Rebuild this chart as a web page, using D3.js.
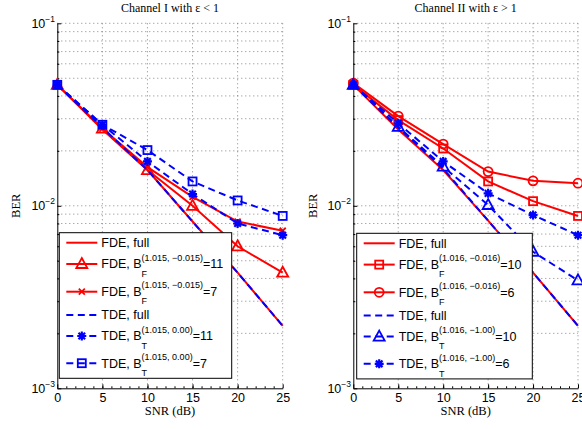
<!DOCTYPE html>
<html>
<head>
<meta charset="utf-8">
<script src="https://cdn.jsdelivr.net/npm/d3@7/dist/d3.min.js"></script>
<style>
  body { margin: 0; background: #fff; }
  svg { display: block; }
</style>
</head>
<body>
<svg id="chart" width="582" height="429"></svg>
<script>
// x values (SNR in dB)
var snr = [0, 5, 10, 15, 20, 25];

// Channel I (eps < 1)
var fdeFull1 = [0.046, 0.0262, 0.0157, 0.0082, 0.0043, 0.0022];
var fdeB11_1 = [0.046, 0.0265, 0.0157, 0.0100, 0.0060, 0.0043];
var fdeB7_1  = [0.046, 0.0265, 0.0163, 0.0112, 0.0082, 0.0073];
var tdeFull1 = [0.046, 0.0268, 0.0157, 0.0082, 0.0043, 0.0022];
var tdeB11_1 = [0.046, 0.0278, 0.0175, 0.0116, 0.0080, 0.0069];
var tdeB7_1  = [0.046, 0.0278, 0.0202, 0.0136, 0.0107, 0.0088];

// Channel II (eps > 1)
var fdeFull2 = [0.046, 0.0262, 0.0157, 0.0083, 0.0043, 0.0022];
var fdeB10_2 = [0.046, 0.0295, 0.0206, 0.0136, 0.0106, 0.0088];
var fdeB6_2  = [0.047, 0.0310, 0.0218, 0.0154, 0.0137, 0.0133];
var tdeFull2 = [0.046, 0.0268, 0.0160, 0.0083, 0.0043, 0.0022];
var tdeB10_2 = [0.046, 0.0271, 0.0164, 0.0101, 0.0056, 0.0039];
var tdeB6_2  = [0.046, 0.0283, 0.0175, 0.0117, 0.0089, 0.0069];

var titles = ["Channel I with \u03b5 < 1", "Channel II with \u03b5 > 1"];
var xTicks = [0, 5, 10, 15, 20, 25];
var yMajor = [0.1, 0.01, 0.001];
var yExp = ["\u22121", "\u22122", "\u22123"];

// legend labels: [main, subscript, superscript, tail]
var panels = [
  {
    title: titles[0],
    series: [
      { v: fdeFull1, c: "red", dash: false, m: null, lab: ["FDE, full"] },
      { v: fdeB11_1, c: "red", dash: false, m: "tri", lab: ["FDE, B", "F", "(1.015, \u22120.015)", "=11"] },
      { v: fdeB7_1, c: "red", dash: false, m: "x", lab: ["FDE, B", "F", "(1.015, \u22120.015)", "=7"] },
      { v: tdeFull1, c: "blue", dash: true, m: null, lab: ["TDE, full"] },
      { v: tdeB11_1, c: "blue", dash: true, m: "ast", lab: ["TDE, B", "T", "(1.015, 0.00)", "=11"] },
      { v: tdeB7_1, c: "blue", dash: true, m: "sq", lab: ["TDE, B", "T", "(1.015, 0.00)", "=7"] }
    ]
  },
  {
    title: titles[1],
    series: [
      { v: fdeFull2, c: "red", dash: false, m: null, lab: ["FDE, full"] },
      { v: fdeB10_2, c: "red", dash: false, m: "sq", lab: ["FDE, B", "F", "(1.016, \u22120.016)", "=10"] },
      { v: fdeB6_2, c: "red", dash: false, m: "circ", lab: ["FDE, B", "F", "(1.016, \u22120.016)", "=6"] },
      { v: tdeFull2, c: "blue", dash: true, m: null, lab: ["TDE, full"] },
      { v: tdeB10_2, c: "blue", dash: true, m: "tri", lab: ["TDE, B", "T", "(1.016, \u22121.00)", "=10"] },
      { v: tdeB6_2, c: "blue", dash: true, m: "ast", lab: ["TDE, B", "T", "(1.016, \u22121.00)", "=6"] }
    ]
  }
];

var sans = "'Liberation Sans', Arial, Helvetica, sans-serif";
var serif = "'Liberation Serif', 'Times New Roman', serif";
var colors = { red: "#ff0000", blue: "#0000ff" };

var svg = d3.select("#chart");
svg.append("rect").attr("width", 582).attr("height", 429).attr("fill", "#fff");

var yTop = 23.3, yBot = 388.3;
var layout = [
  { x0: 57.3, x1: 282.7, lx: 59.3, lw: 172.4, ly: 232.7, bx: 20 },
  { x0: 353.3, x1: 578, lx: 356.7, lw: 175.6, ly: 233.3, bx: 316.5 }
];
var rowOff = [10, 31.3, 59, 82.3, 103.3, 130.5];

function marker(g, type, x, y, col) {
  var s = g.append("g").attr("fill", "none").attr("stroke", col).attr("stroke-width", 1.8);
  if (type === "tri") {
    s.append("path").attr("d", "M" + x + "," + (y - 6) + "L" + (x + 5.5) + "," + (y + 4) + "L" + (x - 5.5) + "," + (y + 4) + "Z");
  } else if (type === "sq") {
    s.append("rect").attr("x", x - 4).attr("y", y - 4).attr("width", 8).attr("height", 8);
  } else if (type === "circ") {
    s.append("circle").attr("cx", x).attr("cy", y).attr("r", 4.5);
  } else if (type === "x") {
    s.append("path").attr("d", "M" + (x - 3) + "," + (y - 3) + "L" + (x + 3) + "," + (y + 3) + "M" + (x - 3) + "," + (y + 3) + "L" + (x + 3) + "," + (y - 3));
  } else if (type === "ast") {
    var r = 4.5, d = 3.3;
    s.attr("stroke-width", 2.2);
    s.append("path").attr("d",
      "M" + (x - r) + "," + y + "L" + (x + r) + "," + y +
      "M" + x + "," + (y - r) + "L" + x + "," + (y + r) +
      "M" + (x - d) + "," + (y - d) + "L" + (x + d) + "," + (y + d) +
      "M" + (x - d) + "," + (y + d) + "L" + (x + d) + "," + (y - d));
  }
}

panels.forEach(function (p, i) {
  var L = layout[i];
  var x = d3.scaleLinear().domain([0, 25]).range([L.x0, L.x1]);
  var y = d3.scaleLog().domain([0.001, 0.1]).range([yBot, yTop]);
  var g = svg.append("g");

  // grid (dotted)
  var minor = [];
  [0.001, 0.01].forEach(function (b) { for (var k = 2; k <= 9; k++) minor.push(b * k); });
  var hGrid = minor.concat([0.01, 0.1]);
  g.append("g").selectAll("line").data(hGrid).enter().append("line")
    .attr("x1", L.x0).attr("x2", L.x1)
    .attr("y1", function (d) { return y(d); }).attr("y2", function (d) { return y(d); })
    .attr("stroke", "#666").attr("stroke-width", 0.8).attr("stroke-dasharray", "1,3");
  g.append("g").selectAll("line").data(xTicks.slice(1)).enter().append("line")
    .attr("x1", function (d) { return x(d); }).attr("x2", function (d) { return x(d); })
    .attr("y1", yTop).attr("y2", yBot)
    .attr("stroke", "#666").attr("stroke-width", 0.8).attr("stroke-dasharray", "1,3");

  // x axis
  var xa = g.append("g").attr("transform", "translate(0," + yBot + ")")
    .call(d3.axisBottom(x).tickValues(xTicks).tickSizeInner(-4).tickSizeOuter(0).tickPadding(5));
  xa.selectAll("text").style("font-family", sans).style("font-size", "12.5px").attr("fill", "#000");
  g.append("g").attr("transform", "translate(0," + yBot + ")")
    .call(d3.axisBottom(x).tickValues(d3.range(1, 25)).tickSize(-2).tickFormat(""))
    .select(".domain").remove();

  // y axis
  g.append("g").attr("transform", "translate(" + L.x0 + ",0)")
    .call(d3.axisLeft(y).tickValues(yMajor).tickSizeInner(-4).tickSizeOuter(0).tickFormat(""));
  g.append("g").attr("transform", "translate(" + L.x0 + ",0)")
    .call(d3.axisLeft(y).tickValues(hGrid.filter(function (d) { return d > 0.0011 && yMajor.indexOf(d) < 0; })).tickSize(-2).tickFormat(""))
    .select(".domain").remove();
  g.selectAll(".domain").attr("stroke", "#000");

  yMajor.forEach(function (v, j) {
    var t = g.append("text").attr("x", L.x0 - 2.3).attr("y", y(v) + 4.5)
      .attr("text-anchor", "end").style("font-family", sans).style("font-size", "12.5px");
    t.append("tspan").text("10");
    t.append("tspan").attr("dy", -6).style("font-size", "8.5px").text(yExp[j]);
  });

  // axis labels and title
  g.append("text").attr("x", (L.x0 + L.x1) / 2).attr("y", 415).attr("text-anchor", "middle")
    .style("font-family", serif).style("font-size", "12.5px").text("SNR (dB)");
  g.append("text").attr("x", (L.x0 + L.x1) / 2).attr("y", 12).attr("text-anchor", "middle")
    .style("font-family", serif).style("font-size", "12px").text(p.title);
  g.append("text").attr("transform", "translate(" + L.bx + "," + ((yTop + yBot) / 2) + ") rotate(-90)")
    .attr("text-anchor", "middle").style("font-family", serif).style("font-size", "12.5px").text("BER");

  // series
  var line = d3.line().x(function (d, k) { return x(snr[k]); }).y(function (d) { return y(d); });
  p.series.forEach(function (s) {
    g.append("path").datum(s.v).attr("d", line).attr("fill", "none")
      .attr("stroke", colors[s.c]).attr("stroke-width", 2)
      .attr("stroke-dasharray", s.dash ? "7,4.5" : null);
    if (s.m) s.v.forEach(function (v, k) { marker(g, s.m, x(snr[k]), y(v), colors[s.c]); });
  });

  // legend
  var lg = svg.append("g");
  lg.append("rect").attr("x", L.lx).attr("y", L.ly).attr("width", L.lw).attr("height", 145.6)
    .attr("fill", "#fff").attr("stroke", "#000").attr("stroke-width", 1);
  p.series.forEach(function (s, r) {
    var ly = L.ly + rowOff[r];
    var sx0 = L.lx + 7, sx1 = L.lx + 38;
    lg.append("line").attr("x1", sx0).attr("x2", sx1).attr("y1", ly).attr("y2", ly)
      .attr("stroke", colors[s.c]).attr("stroke-width", 2)
      .attr("stroke-dasharray", s.dash ? "7,4.5" : null);
    if (s.m) marker(lg, s.m, (sx0 + sx1) / 2, ly, colors[s.c]);
    var tx = L.lx + 42, base = ly + 4.3;
    var t0 = lg.append("text").attr("x", tx).attr("y", base)
      .style("font-family", sans).style("font-size", "12.5px").text(s.lab[0]);
    if (s.lab.length > 1) {
      var w = t0.node().getComputedTextLength();
      lg.append("text").attr("x", tx + w).attr("y", base + 8.4)
        .style("font-family", sans).style("font-size", "9px").text(s.lab[1]);
      var sup = lg.append("text").attr("x", tx + w).attr("y", base - 7.6)
        .style("font-family", sans).style("font-size", "9px").text(s.lab[2]);
      var ws = sup.node().getComputedTextLength();
      lg.append("text").attr("x", tx + w + ws).attr("y", base)
        .style("font-family", sans).style("font-size", "12.5px").text(s.lab[3]);
    }
  });
});
</script>
</body>
</html>
